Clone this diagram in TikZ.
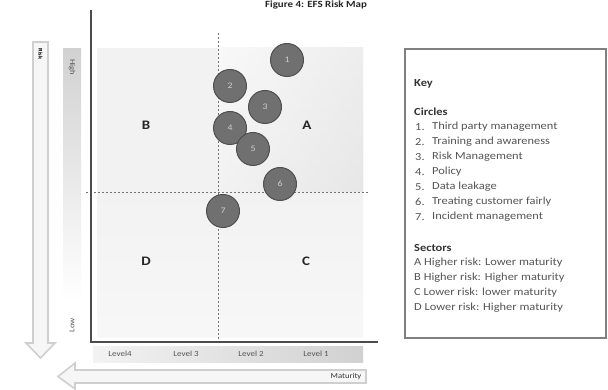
\documentclass[tikz,border=0pt]{standalone}
\usepackage{fontspec}
\setmainfont{Carlito}[FakeStretch=1.15]
\definecolor{circfill}{HTML}{707070}
\definecolor{circdraw}{HTML}{4E4E4E}
\definecolor{circtext}{HTML}{CFCFCF}
\definecolor{keytext}{HTML}{555555}
\definecolor{arrowline}{HTML}{CFCFCF}
\definecolor{arrowfill}{HTML}{F6F6F6}
\definecolor{quad}{HTML}{F2F2F2}
\definecolor{quadA}{HTML}{DCDCDC}
\tikzset{
  riskcircle/.style={circle,minimum size=33pt,inner sep=0pt,fill=circfill,draw=circdraw,line width=1pt,text=circtext,font=\fontsize{8.5}{9}\selectfont},
  sector/.style={font=\bfseries\fontsize{13}{14}\selectfont,text=black!85},
  levellabel/.style={font=\fontsize{7.8}{8}\selectfont,text=keytext},
  keyline/.style={anchor=west,font=\fontsize{10.8}{12}\selectfont,text=keytext,inner sep=0pt},
  keyhead/.style={anchor=west,font=\bfseries\fontsize{10.8}{12}\selectfont,text=black!80,inner sep=0pt},
  hollowarrow/.style={draw=arrowline,line width=1.6pt,fill=arrowfill,line join=miter},
  guide/.style={dashed,draw=black!55,line width=0.6pt,dash pattern=on 2pt off 2pt},
  axis/.style={draw=black!70,line width=1.2pt}
}
\begin{document}
\begin{tikzpicture}[x=1pt,y=-1pt]
\useasboundingbox (0,0) rectangle (608,390);
\fill[white] (0,0) rectangle (608,390);
% title
\node[font=\bfseries\fontsize{9.5}{10}\selectfont,text=black!85] (title) at (316,5) {Figure 4: EFS Risk Map};
% quadrant background
\fill[quad] (97,48) rectangle (363,337);
\shade[bottom color=quad!60!white,top color=quad] (97,192) rectangle (363,337);
\shade[left color=quad,right color=quadA] (218,48) rectangle (363,192);
\shade[top color=quadA!0!white,bottom color=quad,opacity=0.5] (218,48) rectangle (363,192);
% left gradient bar (High/Low)
\shade[top color=black!18,bottom color=white] (63,49) rectangle (81,300);
\node[rotate=-90,font=\fontsize{7.5}{8}\selectfont,text=keytext] (high) at (72,67) {High};
\node[rotate=90,font=\fontsize{7.5}{8}\selectfont,text=keytext] (low) at (72,325) {Low};
% level bar
\shade[left color=black!5,right color=black!18] (93,346) rectangle (363,362);
\node[levellabel] (l4) at (120,354) {Level4};
\node[levellabel] (l3) at (186,354) {Level 3};
\node[levellabel] (l2) at (251,354) {Level 2};
\node[levellabel] (l1) at (316,354) {Level 1};
% guides
\draw[guide] (218,33) -- (218,345);
\draw[guide] (86,192) -- (368,192);
% axes
\draw[axis] (91,10) -- (91,342) -- (378,342);
% risk arrow
\draw[hollowarrow] (33,42) -- (48,42) -- (48,343) -- (55,343) -- (40.5,358) -- (26,343) -- (33,343) -- cycle;
\node[rotate=-90,font=\bfseries\fontsize{5.5}{6}\selectfont] (risk) at (40.5,54) {Risk};
% maturity arrow
\draw[hollowarrow] (366,370) -- (75,370) -- (75,363) -- (58,376.5) -- (75,389) -- (75,383) -- (366,383) -- cycle;
\node[font=\fontsize{7.5}{8}\selectfont,text=black!80] (maturity) at (346,377) {Maturity};
% sectors
\node[sector] (B) at (146,125) {B};
\node[sector] (A) at (307,125) {A};
\node[sector] (D) at (146,261) {D};
\node[sector] (C) at (306,261) {C};
% circles
\node[riskcircle] (c1) at (287,60) {1};
\node[riskcircle] (c2) at (230,86) {2};
\node[riskcircle] (c3) at (265,107) {3};
\node[riskcircle] (c4) at (230,128) {4};
\node[riskcircle] (c5) at (253,149) {5};
\node[riskcircle] (c6) at (280,184) {6};
\node[riskcircle] (c7) at (223,211) {7};
% key box
\draw[draw=black!50,line width=1.3pt,fill=white] (405,49) rectangle (606,338);
\node[keyhead] (key) at (414,84) {Key};
\node[keyhead] (circles) at (414,112) {Circles};
\foreach \n/\t [count=\i] in {1/Third party management,2/Training and awareness,3/Risk Management,4/Policy,5/Data leakage,6/Treating customer fairly,7/Incident management}{
  \node[keyline] (kn\i) at (415,{127+(\i-1)*15}) {\n.};
  \node[keyline] (kt\i) at (432,{127+(\i-1)*15}) {\t};
}
\node[keyhead] (sectors) at (414,248) {Sectors};
\node[keyline] (s1) at (414,263) {A Higher risk: Lower maturity};
\node[keyline] (s2) at (414,278) {B Higher risk: Higher maturity};
\node[keyline] (s3) at (414,293) {C Lower risk: lower maturity};
\node[keyline] (s4) at (414,308) {D Lower risk: Higher maturity};
\end{tikzpicture}
\end{document}
